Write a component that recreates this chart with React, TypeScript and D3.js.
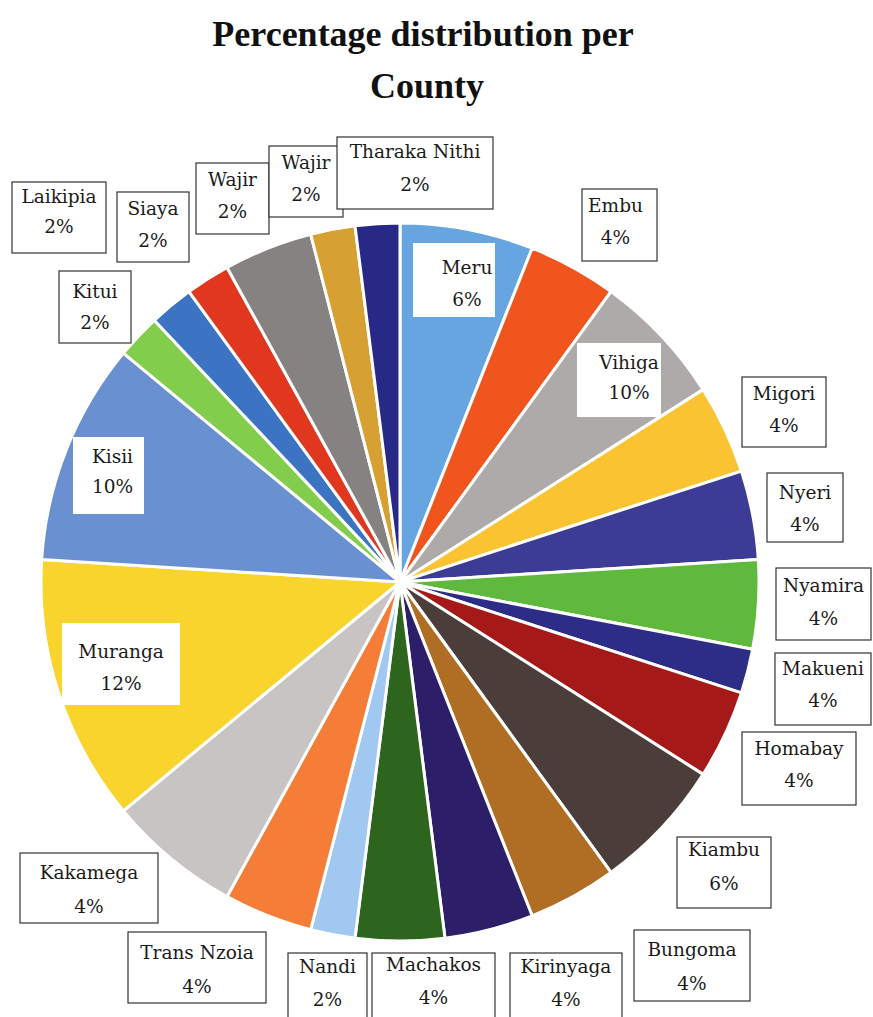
import React from "react";
import * as d3 from "d3";

// ---- Data ----
const counties = [
  "Meru", "Embu", "Vihiga", "Migori", "Nyeri", "Nyamira", "Makueni", "Homabay",
  "Kiambu", "Bungoma", "Kirinyaga", "Machakos", "Nandi", "Trans Nzoia", "Kakamega",
  "Muranga", "Kisii", "Kitui", "Laikipia", "Siaya", "Wajir", "Wajir", "Tharaka Nithi",
];
// slice sizes as drawn (percent)
const sliceShare = [6, 4, 6, 4, 4, 4, 2, 4, 6, 4, 4, 4, 2, 4, 6, 12, 10, 2, 2, 2, 4, 2, 2];
// percentages printed in the labels
const labelPct = [
  "6%", "4%", "10%", "4%", "4%", "4%", "4%", "4%", "6%", "4%", "4%", "4%", "2%", "4%", "4%",
  "12%", "10%", "2%", "2%", "2%", "2%", "2%", "2%",
];
const sliceColors = [
  "#66a5e0", "#f0551e", "#afaaaa", "#fac332", "#3c3c96", "#5fb93c", "#2d2d87", "#a51919",
  "#4b3e3a", "#af6e23", "#2d1e69", "#2d641e", "#a0c8f0", "#f57d37", "#c8c4c3",
  "#f8d42d", "#6991d2", "#82cd4b", "#3c73c3", "#e1371e", "#878282", "#d7a032", "#282887",
];
const titleLines = ["Percentage distribution per", "County"];

// ---- Layout (label boxes, same order as counties) ----
type Box = { x: number; y: number; w: number; h: number; border: boolean; dx?: number; y1?: number; y2?: number };
const labelBoxes: Box[] = [
  { x: 413, y: 243, w: 82, h: 74, border: false, dx: 13, y1: 31, y2: 63 },
  { x: 582, y: 189, w: 75, h: 72, border: true, dx: -4 },
  { x: 577, y: 343, w: 84, h: 74, border: false, dx: 10, y1: 26, y2: 56 },
  { x: 742, y: 377, w: 84, h: 70, border: true },
  { x: 767, y: 473, w: 76, h: 69, border: true, y1: 26, y2: 58 },
  { x: 776, y: 568, w: 95, h: 72, border: true, y1: 24, y2: 57 },
  { x: 775, y: 653, w: 96, h: 72, border: true, y1: 22, y2: 54 },
  { x: 742, y: 732, w: 114, h: 73, border: true },
  { x: 677, y: 837, w: 94, h: 71, border: true, y1: 19, y2: 53 },
  { x: 634, y: 930, w: 116, h: 71, border: true, y1: 26, y2: 60 },
  { x: 510, y: 953, w: 112, h: 72, border: true, y1: 20, y2: 53 },
  { x: 372, y: 953, w: 123, h: 72, border: true, y1: 18, y2: 51 },
  { x: 288, y: 953, w: 79, h: 72, border: true, y1: 20, y2: 53 },
  { x: 128, y: 932, w: 138, h: 71, border: true, y1: 27, y2: 61 },
  { x: 20, y: 853, w: 138, h: 70, border: true, y1: 26, y2: 60 },
  { x: 62, y: 623, w: 118, h: 82, border: false, y1: 35, y2: 67 },
  { x: 73, y: 437, w: 71, h: 77, border: false, dx: 4, y1: 26, y2: 56 },
  { x: 59, y: 271, w: 72, h: 72, border: true, y1: 27, y2: 58 },
  { x: 12, y: 182, w: 94, h: 71, border: true, y1: 21, y2: 51 },
  { x: 117, y: 192, w: 72, h: 70, border: true, y1: 23, y2: 55 },
  { x: 196, y: 163, w: 73, h: 71, border: true, y1: 23, y2: 55 },
  { x: 269, y: 146, w: 74, h: 71, border: true, y1: 23, y2: 55 },
  { x: 337, y: 137, w: 156, h: 72, border: true, y1: 21, y2: 54 },
];

const W = 873;
const H = 1017;
const cx = 400;
const cy = 582;
const R = 359;

export default function App() {
  const pie = d3.pie<number>().sort(null).value((d) => d).startAngle(0).endAngle(2 * Math.PI);
  const arcs = pie(sliceShare);
  const arc = d3.arc<d3.PieArcDatum<number>>().innerRadius(0).outerRadius(R);
  const labelFont = "'DejaVu Serif', serif";

  return (
    <svg
      width={W}
      height={H}
      viewBox={`0 0 ${W} ${H}`}
      style={{ position: "absolute", left: 0, top: 0, background: "#fff" }}
    >
      <rect x={0} y={0} width={W} height={H} fill="#fff" />
      <g fontFamily="'Liberation Serif', serif" fontWeight="bold" fontSize={36} fill="#111" textAnchor="middle">
        <text x={423} y={46}>{titleLines[0]}</text>
        <text x={427} y={98}>{titleLines[1]}</text>
      </g>
      <g transform={`translate(${cx},${cy})`}>
        {arcs.map((a, i) => (
          <path key={i} d={arc(a) || ""} fill={sliceColors[i]} stroke="#fff" strokeWidth={3} strokeLinejoin="round" />
        ))}
      </g>
      <g fontFamily={labelFont} fontSize={18.5} fill="#1a1a1a" textAnchor="middle">
        {counties.map((name, i) => {
          const b = labelBoxes[i];
          const tx = b.x + b.w / 2 + (b.dx || 0);
          return (
            <g key={i}>
              <rect
                x={b.x}
                y={b.y}
                width={b.w}
                height={b.h}
                fill="#fff"
                stroke={b.border ? "#333" : "none"}
                strokeWidth={1.2}
              />
              <text x={tx} y={b.y + (b.y1 ?? 23)}>{name}</text>
              <text x={tx} y={b.y + (b.y2 ?? 55)}>{labelPct[i]}</text>
            </g>
          );
        })}
      </g>
    </svg>
  );
}
